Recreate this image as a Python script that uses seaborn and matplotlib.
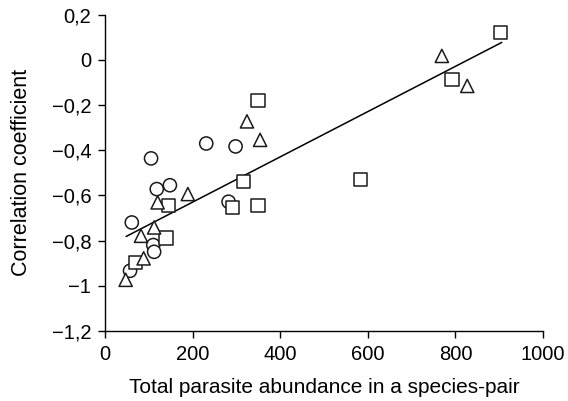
import numpy as np
import pandas as pd
import matplotlib
matplotlib.use("Agg")
import matplotlib.pyplot as plt
import seaborn as sns

# abundance (x) and correlation (y) per species-pair, by marker group
circle_x = [105, 118, 148, 61, 110, 112, 57, 231, 298, 282]
circle_y = [-0.436, -0.572, -0.555, -0.72, -0.82, -0.85, -0.934, -0.37, -0.383, -0.628]

square_x = [145, 139, 69, 349, 316, 291, 349, 584, 792, 903]
square_y = [-0.643, -0.789, -0.897, -0.181, -0.54, -0.653, -0.643, -0.528, -0.085, 0.122]

triangle_x = [189, 120, 112, 82, 88, 47, 324, 354, 769, 827]
triangle_y = [-0.594, -0.631, -0.742, -0.779, -0.879, -0.974, -0.272, -0.354, 0.018, -0.115]

fit_x = [48, 906]
fit_y = [-0.782, 0.078]

y_ticks = [0.2, 0, -0.2, -0.4, -0.6, -0.8, -1, -1.2]
y_labels = ["0,2", "0", "\u22120,2", "\u22120,4", "\u22120,6", "\u22120,8", "\u22121", "\u22121,2"]
x_ticks = [0, 200, 400, 600, 800, 1000]

df = pd.concat([
    pd.DataFrame({"x": circle_x, "y": circle_y, "group": "circle"}),
    pd.DataFrame({"x": square_x, "y": square_y, "group": "square"}),
    pd.DataFrame({"x": triangle_x, "y": triangle_y, "group": "triangle"}),
])

sns.set_style("ticks", {"text.color": "black", "axes.labelcolor": "black",
                        "xtick.color": "black", "ytick.color": "black",
                        "axes.edgecolor": "black"})
plt.rcParams["font.family"] = ["Liberation Sans", "DejaVu Sans"]

fig = plt.figure(figsize=(5.68, 4.01), dpi=100)
ax = fig.add_axes([0.185, 0.175, 0.771, 0.788])

sns.lineplot(x=fit_x, y=fit_y, ax=ax, color="black", linewidth=1.1)
sns.scatterplot(data=df, x="x", y="y", style="group",
                markers={"circle": "o", "square": "s", "triangle": "^"},
                s=90, facecolor="white", edgecolor="#1a1a1a", linewidth=1.1,
                legend=False, ax=ax, zorder=3)

ax.set_xlim(0, 1000)
ax.set_ylim(-1.2, 0.2)
ax.set_xticks(x_ticks)
ax.set_xticklabels([str(t) for t in x_ticks])
ax.set_yticks(y_ticks)
ax.set_yticklabels(y_labels)
ax.tick_params(labelsize=14.5, length=5, width=1, color="black", labelcolor="black",
               direction="out", pad=5)
ax.set_xlabel("Total parasite abundance in a species-pair", fontsize=15, labelpad=10,
              color="black")
ax.set_ylabel("Correlation coefficient", fontsize=15.5, labelpad=14, color="black")
for s in ["top", "right"]:
    ax.spines[s].set_visible(False)
for s in ["left", "bottom"]:
    ax.spines[s].set_color("black")
    ax.spines[s].set_linewidth(1)

fig.savefig("out.png", dpi=100)
